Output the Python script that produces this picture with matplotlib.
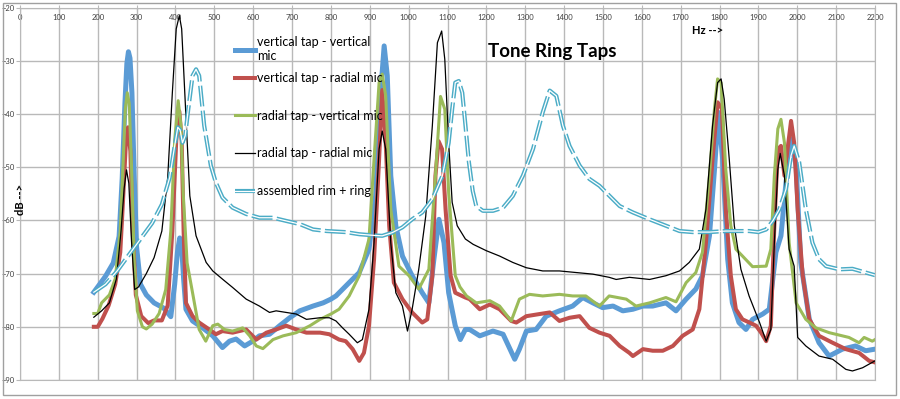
import matplotlib
matplotlib.use("Agg")
import matplotlib.pyplot as plt
from matplotlib.patches import Rectangle

plt.rcParams["font.family"] = ["Lato", "DejaVu Sans"]

# vertical tap - vertical mic
blue_hz = [190, 205, 220, 240, 255, 263, 270, 275, 279, 283,
           288, 294, 300, 310, 325, 345, 370, 388, 398, 405,
           411, 416, 421, 427, 444, 470, 496, 521, 539, 556,
           578, 599, 616, 642, 668, 694, 720, 754, 780, 800,
           813, 847, 873, 898, 915, 928, 937, 945, 954, 967,
           984, 1009, 1035, 1052, 1065, 1078, 1091, 1103, 1120, 1133,
           1146, 1157, 1183, 1217, 1243, 1273, 1285, 1303, 1328, 1354,
           1388, 1422, 1448, 1474, 1499, 1526, 1551, 1577, 1603, 1628,
           1662, 1688, 1714, 1739, 1756, 1774, 1787, 1797, 1808, 1821,
           1833, 1850, 1868, 1885, 1911, 1928, 1945, 1958, 1971, 1984,
           1997, 2009, 2031, 2056, 2082, 2116, 2150, 2176, 2200]
blue_db = [-73.5, -72, -70.5, -68, -63, -52, -38, -30.5, -28.3, -29.5,
           -36, -52, -65, -72, -74, -75.5, -76.5, -78.1, -72, -66,
           -63.3, -65, -71, -76.7, -78.9, -80.2, -81.7, -83.9, -82.7, -82.3,
           -83.6, -82.7, -81.7, -81.4, -79.8, -78.3, -77, -76.1, -75.5, -74.8,
           -74.2, -71.7, -69.8, -65.4, -55.4, -36, -27.2, -32.8, -51.6, -61,
           -66.7, -70.4, -73.6, -75.5, -67.3, -59.8, -64.2, -73.6, -79.8, -82.4,
           -80.5, -80.5, -81.7, -80.8, -81.4, -86.1, -84.2, -80.8, -80.5, -78,
           -77, -76.1, -74.5, -75.5, -76.4, -76.1, -77, -76.7, -76.1, -76.1,
           -75.5, -77, -74.8, -72.9, -70.4, -62.9, -50.4, -39.7, -48.5, -67.3,
           -75.5, -79.2, -80.5, -78.6, -77.6, -76.7, -66, -62.9, -52.9, -44.7,
           -49.7, -67.9, -78.6, -83, -85.5, -84.2, -83.6, -84.5, -84.2]

# vertical tap - radial mic
red_hz = [190, 200, 212, 228, 245, 258, 266, 272, 278, 284,
          290, 298, 312, 330, 345, 365, 380, 392, 402, 410,
          416, 421, 427, 444, 461, 487, 504, 521, 547, 582,
          608, 634, 659, 685, 711, 737, 772, 796, 821, 838,
          856, 873, 885, 898, 911, 924, 932, 941, 950, 962,
          984, 1009, 1035, 1048, 1061, 1069, 1077, 1086, 1095, 1108,
          1120, 1146, 1157, 1183, 1209, 1234, 1264, 1277, 1303, 1337,
          1363, 1388, 1414, 1440, 1465, 1491, 1517, 1543, 1568, 1577,
          1603, 1628, 1654, 1680, 1705, 1731, 1748, 1765, 1782, 1795,
          1806, 1816, 1829, 1842, 1859, 1877, 1894, 1907, 1920, 1932,
          1941, 1950, 1958, 1967, 1975, 1984, 1992, 2001, 2014, 2031,
          2056, 2091, 2125, 2159, 2185, 2200]
red_db = [-80, -80, -78.5, -76, -72, -66, -55, -46, -42.5, -47,
          -62, -74, -78, -79.3, -78.8, -78.8, -76, -62, -45, -39.5,
          -45, -62, -75.5, -78, -79.2, -80.5, -81.4, -80.8, -81.1, -80.5,
          -82.4, -81.1, -80.5, -79.8, -80.5, -81.1, -81.1, -81.4, -82.4, -82.7,
          -84.2, -86.4, -84.9, -79.8, -67.3, -48.5, -35.5, -45.4, -61, -71.7,
          -74.8, -77.3, -79.2, -78.6, -70.4, -51.6, -45.1, -46.6, -57.9, -70.4,
          -73.6, -74.5, -74.8, -76.7, -75.8, -76.7, -78.9, -79.2, -78, -77.6,
          -77.3, -78.9, -78.3, -78, -80.2, -81.1, -81.7, -83.6, -84.9, -85.5,
          -84.2, -84.5, -84.5, -83.6, -81.7, -80.5, -76.7, -64.2, -48.5, -37.8,
          -39, -57.9, -70.4, -76.7, -78.6, -79.2, -79.8, -81.1, -82.7, -79.8,
          -61, -46.6, -46, -51.6, -46.6, -41.3, -45.4, -57.9, -70.4, -78.6,
          -81.7, -83, -84.2, -84.9, -86.4, -86.7]

# radial tap - vertical mic
green_hz = [190, 200, 210, 230, 245, 258, 266, 271, 276, 281,
            287, 294, 302, 315, 325, 340, 358, 375, 388, 398,
            407, 414, 420, 430, 444, 461, 478, 496, 509, 526,
            547, 573, 591, 608, 625, 651, 677, 711, 746, 772,
            800, 821, 847, 873, 898, 911, 924, 932, 941, 954,
            975, 1001, 1026, 1052, 1069, 1082, 1093, 1103, 1120, 1132,
            1149, 1174, 1209, 1234, 1264, 1285, 1311, 1345, 1388, 1422,
            1456, 1491, 1516, 1560, 1585, 1620, 1662, 1688, 1714, 1739,
            1756, 1774, 1787, 1795, 1804, 1816, 1829, 1842, 1859, 1885,
            1920, 1932, 1941, 1950, 1958, 1967, 1979, 1997, 2022, 2048,
            2082, 2133, 2159, 2172, 2193, 2200]
green_db = [-77.5, -77.5, -75.5, -74, -71, -62, -48, -39, -36, -38,
            -50, -68, -77, -80, -80.4, -79.5, -77.5, -73, -62, -45,
            -37.5, -42, -55, -68, -73.6, -80.5, -82.7, -79.8, -79.5, -80.5,
            -80.8, -80.2, -81.7, -83.6, -84.1, -82.4, -81.7, -81.1, -79.8, -78.6,
            -77.6, -76.7, -74.2, -70.4, -63.5, -48.5, -34.1, -32.5, -36.6, -57.9,
            -68.6, -70.4, -72.9, -69.2, -51.6, -36.7, -39.1, -54.8, -70.4, -72.5,
            -74.2, -75.5, -75.1, -76.1, -78.9, -74.8, -73.9, -74.2, -73.9, -74.2,
            -74.2, -76.1, -74.2, -74.8, -76.1, -75.5, -74.5, -75.3, -71.7, -69.8,
            -66, -51.6, -39, -33.4, -34.1, -50.4, -61, -65.4, -66.7, -68.7,
            -68.6, -65.4, -51.6, -42.8, -41, -45.4, -64.2, -75.5, -78.6, -80.2,
            -81.1, -82, -83, -82, -82.7, -82.4]

# radial tap - radial mic
black_hz = [190, 210, 230, 248, 260, 268, 274, 280, 287, 295,
            305, 325, 345, 365, 380, 392, 402, 410, 416, 424,
            437, 453, 479, 496, 522, 547, 582, 616, 642, 659,
            685, 711, 737, 772, 796, 813, 830, 847, 868, 881,
            898, 911, 924, 932, 941, 954, 967, 984, 997, 1009,
            1026, 1044, 1061, 1074, 1085, 1093, 1103, 1112, 1125, 1146,
            1166, 1200, 1234, 1268, 1303, 1345, 1388, 1431, 1474, 1516,
            1534, 1568, 1620, 1662, 1697, 1722, 1748, 1765, 1782, 1795,
            1804, 1812, 1825, 1838, 1855, 1876, 1903, 1920, 1932, 1941,
            1950, 1956, 1967, 1979, 1992, 2001, 2022, 2056, 2091, 2125,
            2142, 2168, 2200]
black_db = [-78.2, -77, -75.5, -71, -62, -54, -50.5, -53, -64, -73,
            -72.5, -70, -67, -62, -52, -36, -24, -21.5, -24, -36,
            -55.4, -62.9, -67.9, -69.5, -71.1, -72.6, -74.8, -76.1, -77.3, -77,
            -77.3, -77.6, -78.6, -78.3, -78.3, -78.9, -80.2, -81.4, -83, -82.4,
            -76.7, -64.2, -46.6, -43.2, -46.6, -64.2, -73.6, -76.1, -80.8, -76.7,
            -69.2, -59.2, -42.2, -26.6, -24.4, -29.7, -45.4, -56.6, -61, -63.5,
            -64.5, -65.7, -66.7, -67.9, -68.9, -69.5, -69.5, -69.8, -70.1, -70.7,
            -71.1, -70.7, -71.1, -70.4, -69.5, -67.9, -65.4, -57.9, -42.2, -34.1,
            -33.4, -37.2, -48.5, -61, -69.2, -74.2, -79.2, -82.7, -80.5, -64.2,
            -50.4, -47.4, -51.6, -65.4, -68.6, -82, -83.6, -85.5, -86.1, -88,
            -88.3, -87.7, -86.4]

# assembled rim + ring
cyan_hz = [190, 220, 250, 280, 310, 340, 365, 385, 398, 406,
           412, 418, 425, 433, 444, 453, 461, 474, 491, 504,
           521, 547, 582, 616, 651, 685, 720, 754, 789, 838,
           873, 907, 932, 958, 984, 1009, 1035, 1061, 1087, 1103,
           1112, 1120, 1129, 1138, 1146, 1155, 1165, 1174, 1191, 1217,
           1243, 1268, 1294, 1320, 1345, 1363, 1380, 1397, 1414, 1440,
           1465, 1491, 1517, 1543, 1577, 1620, 1662, 1697, 1731, 1774,
           1816, 1876, 1900, 1920, 1937, 1954, 1971, 1984, 1992, 2005,
           2022, 2039, 2056, 2074, 2108, 2142, 2176, 2200]
cyan_db = [-73.5, -72, -69.5, -66.5, -63.5, -60.5, -57, -52, -46, -42.5,
           -43, -45.4, -44.1, -39.1, -32.8, -31.6, -32.8, -42.2, -49.7, -52.9,
           -55.7, -57.6, -58.8, -59.5, -59.5, -60.1, -60.7, -61.7, -62, -62.2,
           -62.6, -62.8, -62.9, -62.3, -61.3, -59.8, -58.5, -56, -51.6, -45.4,
           -39.1, -34.1, -33.8, -36, -42, -49, -54.5, -57.3, -58.2, -58.2,
           -57.6, -55.4, -51.6, -46.6, -39.7, -35.6, -36.6, -42.2, -46, -49.7,
           -52.2, -53.5, -55.4, -57.3, -58.5, -59.8, -61, -62, -62.2, -62.2,
           -62, -62, -62.2, -61.7, -60.1, -57.9, -54.1, -47.8, -46, -49.1,
           -57.9, -64.2, -67.3, -68.6, -69.2, -69.1, -69.8, -70.3]

labels = ["vertical tap - vertical\nmic", "vertical tap - radial mic",
          "radial tap - vertical mic", "radial tap - radial mic",
          "assembled rim + ring"]

grid_col = "#b9b9b9"

fig = plt.figure(figsize=(9, 3.99), dpi=100)
ax = fig.add_axes([20 / 900, 1 - 380 / 399, 855 / 900, 372.4 / 399])

l1, = ax.plot(blue_hz, blue_db, color="#5b9bd5", lw=3.6, solid_joinstyle="round")
l2, = ax.plot(red_hz, red_db, color="#c0504d", lw=2.9, solid_joinstyle="round")
l3, = ax.plot(green_hz, green_db, color="#9bbb59", lw=2.2, solid_joinstyle="round")
l4, = ax.plot(black_hz, black_db, color="black", lw=0.9)
l5a, = ax.plot(cyan_hz, cyan_db, color="#4bacc6", lw=3.0, ls=(0, (5, 1)))
l5b, = ax.plot(cyan_hz, cyan_db, color="white", lw=0.9)

ax.set_xlim(0, 2200)
ax.set_ylim(-90, -20)
ax.set_xticks(range(0, 2201, 100))
ax.set_yticks(range(-90, -19, 10))
ax.grid(True, color=grid_col, lw=1.0)
ax.set_axisbelow(True)
for s in ax.spines.values():
    s.set_color(grid_col)

ax.xaxis.tick_top()
ax.tick_params(axis="x", direction="inout", length=4, pad=-12, labelsize=5.5,
               labelcolor="#404040", color=grid_col)
ax.tick_params(axis="y", direction="out", length=3, pad=1, labelsize=5.5,
               labelcolor="#404040", color=grid_col)

# Excel spaces the entries evenly; the wrapped first label spills into the gap
leg_x = (235 - 20) / 855
leg_opts = dict(loc="upper left", frameon=False, fontsize=9, handlelength=1.6,
                handletextpad=0.15, borderpad=0, borderaxespad=0)
leg1 = ax.legend([l1], labels[:1], bbox_to_anchor=(leg_x, (380 - 36) / 372.4),
                 **leg_opts)
ax.add_artist(leg1)
ax.legend([l2, l3, l4, (l5a, l5b)], labels[1:],
          bbox_to_anchor=(leg_x, (380 - 72) / 372.4), labelspacing=2.05,
          **leg_opts)

fig.text(488 / 900, 1 - 52 / 399, "Tone Ring Taps", fontsize=13.5, fontweight="bold",
         ha="left", va="center")
fig.text(708 / 900, 1 - 31 / 399, "Hz -->", fontsize=8, fontweight="bold",
         ha="center", va="center")
fig.text(20.5 / 900, 1 - 199 / 399, "dB -->", fontsize=8, fontweight="bold",
         rotation=90, ha="center", va="center")

fig.patches.append(Rectangle((3 / 900, 4 / 399), 893 / 900, 392 / 399,
                             transform=fig.transFigure, fill=False,
                             edgecolor="#a0a0a0", lw=1.0))

fig.savefig("out.png", dpi=100)
